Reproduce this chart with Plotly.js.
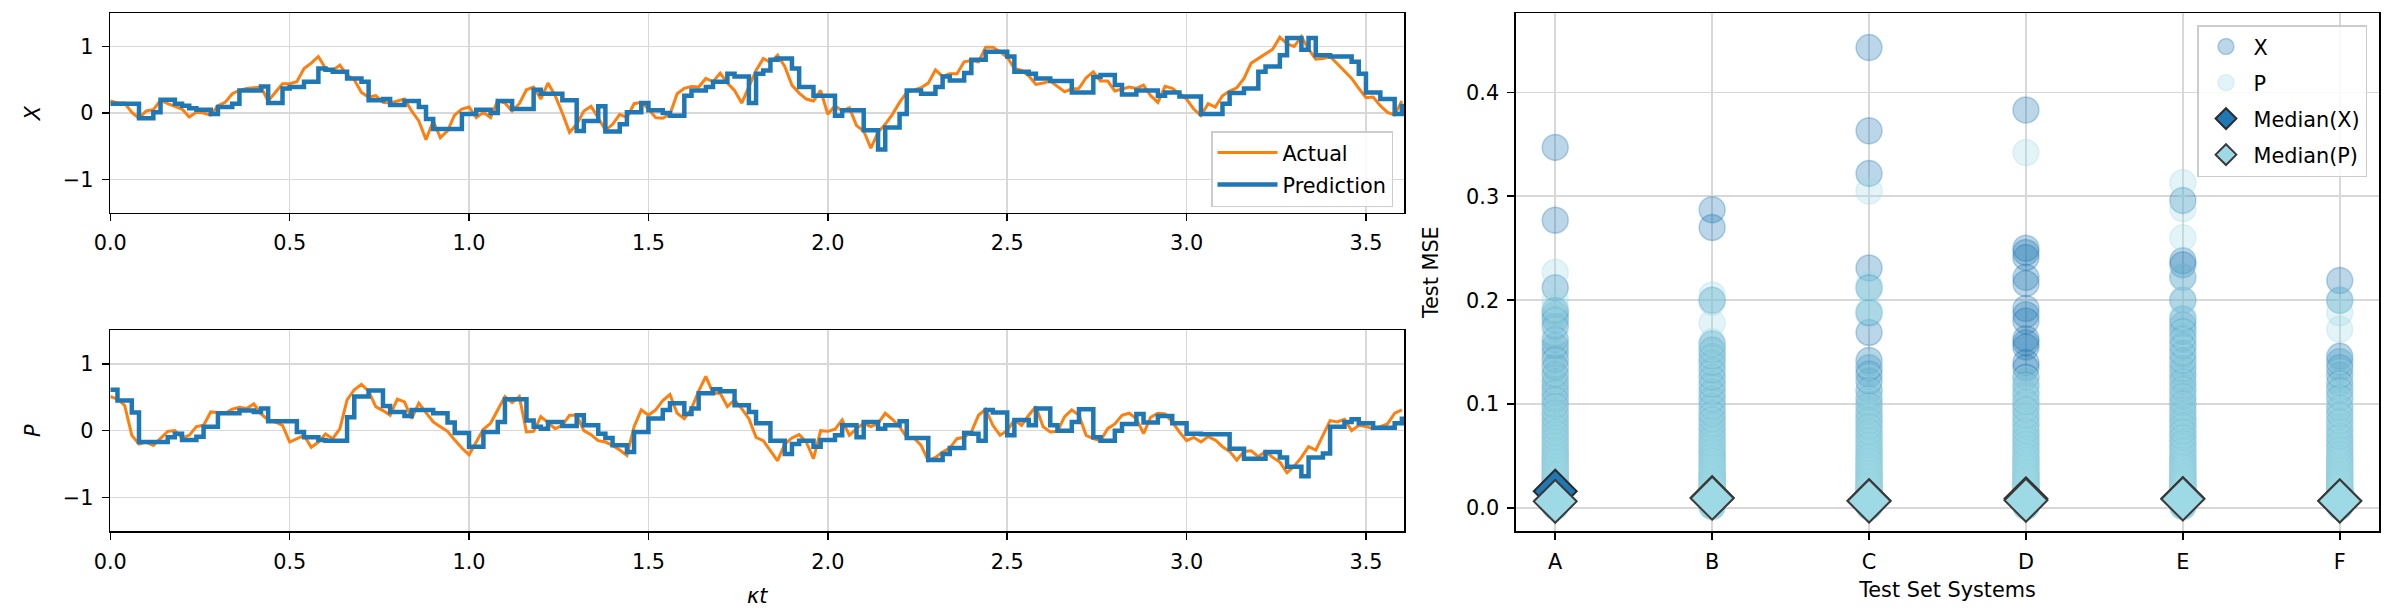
<!DOCTYPE html>
<html>
<head>
<meta charset="utf-8">
<script src="https://cdn.plot.ly/plotly-3.0.1.min.js"></script>
<style>html,body{margin:0;padding:0;background:#fff;}#chart{width:2402px;height:612px;}</style>
</head>
<body>
<div id="chart"></div>
<script>
// ---- time-series data (sampled every 0.02 in kappa*t) ----
const dt = 0.02;
const nSamples = 181;

const xActual = [
 0.18,0.15,0.15,0.01,-0.08,0.03,0.05,0.19,0.14,0.10,
 0.06,-0.06,0.01,0.00,-0.03,0.11,0.16,0.29,0.34,0.37,
 0.38,0.39,0.18,0.31,0.44,0.44,0.47,0.67,0.75,0.85,
 0.67,0.64,0.72,0.57,0.50,0.31,0.24,0.26,0.16,0.15,
 0.18,0.21,0.03,-0.12,-0.40,-0.12,-0.37,-0.27,-0.03,0.06,
 0.09,-0.07,0.01,-0.07,0.19,0.15,0.03,0.14,0.35,0.39,
 0.21,0.45,0.26,0.00,-0.29,-0.17,0.03,0.10,-0.07,-0.26,
 -0.17,-0.02,-0.07,0.14,0.16,0.06,-0.07,-0.08,-0.02,0.29,
 0.37,0.40,0.39,0.52,0.47,0.60,0.45,0.34,0.15,0.39,
 0.64,0.82,0.76,0.87,0.70,0.42,0.30,0.21,0.18,0.34,
 -0.02,0.11,0.03,0.08,-0.19,-0.27,-0.53,-0.29,-0.17,-0.02,
 0.16,0.31,0.34,0.38,0.45,0.65,0.55,0.59,0.59,0.77,
 0.79,0.77,0.99,0.99,0.92,0.84,0.67,0.64,0.56,0.43,
 0.45,0.48,0.40,0.32,0.36,0.37,0.53,0.62,0.48,0.48,
 0.33,0.36,0.39,0.37,0.42,0.26,0.16,0.40,0.37,0.29,
 0.21,0.06,-0.04,0.14,0.09,0.26,0.33,0.38,0.52,0.75,
 0.82,0.89,0.96,1.14,1.04,1.00,1.15,0.96,0.81,0.82,
 0.85,0.74,0.63,0.52,0.37,0.23,0.24,0.11,0.01,-0.03,
 0.18
];
const xPred = [
 0.14,0.14,0.14,0.14,-0.08,-0.08,0.01,0.20,0.20,0.14,
 0.11,0.07,0.05,0.05,-0.015,0.09,0.09,0.14,0.34,0.34,
 0.34,0.40,0.15,0.15,0.37,0.39,0.39,0.47,0.47,0.67,
 0.65,0.62,0.62,0.52,0.52,0.47,0.19,0.19,0.21,0.12,
 0.12,0.18,0.18,0.09,-0.09,-0.24,-0.24,-0.24,-0.24,-0.015,
 -0.015,0.05,0.05,0.00,0.18,0.18,0.06,0.06,0.06,0.35,
 0.29,0.29,0.29,0.19,0.19,-0.27,-0.12,-0.12,0.10,-0.28,
 -0.28,-0.17,0.01,0.01,0.15,0.04,0.04,0.00,-0.04,-0.04,
 0.26,0.34,0.34,0.39,0.47,0.47,0.59,0.55,0.55,0.15,
 0.59,0.64,0.80,0.82,0.82,0.67,0.39,0.39,0.26,0.26,
 0.26,-0.04,0.04,0.04,0.04,-0.26,-0.26,-0.55,-0.22,-0.22,
 -0.015,0.34,0.34,0.29,0.29,0.39,0.55,0.49,0.49,0.60,
 0.80,0.80,0.92,0.92,0.92,0.85,0.62,0.62,0.59,0.52,
 0.52,0.48,0.48,0.48,0.31,0.31,0.31,0.54,0.57,0.57,
 0.42,0.28,0.28,0.34,0.34,0.34,0.26,0.31,0.31,0.25,
 0.25,0.25,-0.015,-0.015,-0.015,0.14,0.30,0.30,0.37,0.37,
 0.62,0.70,0.70,0.87,1.13,1.13,0.95,1.13,0.87,0.87,
 0.85,0.85,0.85,0.77,0.59,0.31,0.31,0.21,0.21,-0.015,
 0.14
];
const pActual = [
 0.51,0.47,0.38,-0.07,-0.20,-0.17,-0.22,-0.12,-0.01,0.00,
 -0.11,-0.07,0.06,0.08,0.28,0.27,0.26,0.32,0.35,0.33,
 0.40,0.25,0.16,0.13,0.08,-0.17,-0.12,-0.07,-0.25,-0.17,
 -0.05,-0.12,0.03,0.46,0.61,0.69,0.59,0.36,0.30,0.23,
 0.47,0.43,0.18,0.41,0.27,0.13,0.06,-0.01,-0.14,-0.26,
 -0.36,-0.17,0.02,0.11,0.31,0.51,0.42,0.51,-0.02,-0.01,
 0.21,0.12,0.03,0.08,0.23,0.23,0.00,-0.06,-0.15,-0.17,
 -0.22,-0.29,-0.37,0.06,0.31,0.23,0.31,0.45,0.54,0.26,
 0.18,0.33,0.59,0.81,0.56,0.56,0.36,0.46,0.33,0.18,
 -0.10,-0.15,-0.30,-0.45,-0.20,-0.11,-0.06,-0.17,-0.42,0.00,
 -0.01,0.02,0.16,-0.07,0.03,0.11,0.06,0.11,0.26,0.17,
 0.06,-0.10,-0.11,-0.22,-0.45,-0.40,-0.32,-0.26,-0.12,-0.10,
 -0.02,0.23,0.32,0.08,-0.07,0.00,0.16,0.08,0.23,0.36,
 0.06,-0.02,-0.01,0.21,0.31,0.23,-0.07,-0.12,-0.15,0.03,
 0.10,0.23,0.26,0.18,-0.045,0.20,0.26,0.25,0.13,-0.02,
 -0.15,-0.10,-0.17,-0.09,-0.14,-0.24,-0.31,-0.44,-0.31,-0.30,
 -0.39,-0.31,-0.40,-0.47,-0.63,-0.53,-0.40,-0.24,-0.29,-0.07,
 0.15,0.13,0.17,0.00,0.08,0.06,0.03,0.06,0.10,0.26,
 0.31
];
const pPred = [
 0.61,0.45,0.45,0.27,-0.17,-0.17,-0.17,-0.17,-0.10,-0.045,
 -0.14,-0.14,-0.09,0.06,0.06,0.26,0.26,0.26,0.30,0.30,
 0.28,0.33,0.14,0.14,0.14,0.14,-0.02,-0.10,-0.10,-0.14,
 -0.15,-0.15,-0.15,0.20,0.51,0.51,0.60,0.60,0.37,0.28,
 0.28,0.22,0.31,0.31,0.31,0.26,0.26,0.12,-0.035,-0.035,
 -0.24,-0.24,-0.02,-0.02,0.13,0.47,0.47,0.47,0.15,0.06,
 0.03,0.13,0.13,0.07,0.07,0.23,0.08,0.08,-0.045,-0.11,
 -0.22,-0.22,-0.32,-0.02,-0.02,0.18,0.18,0.31,0.41,0.41,
 0.25,0.33,0.56,0.56,0.62,0.59,0.59,0.38,0.38,0.28,
 0.11,0.11,-0.15,-0.15,-0.35,-0.20,-0.15,-0.15,-0.24,-0.14,
 -0.14,-0.07,0.08,0.08,-0.10,0.13,0.13,0.03,0.08,0.08,
 0.14,-0.11,-0.11,-0.11,-0.44,-0.44,-0.35,-0.26,-0.26,-0.035,
 -0.045,-0.15,0.31,0.27,0.27,-0.07,0.16,0.16,0.08,0.33,
 0.33,0.08,0.00,0.00,0.13,0.32,0.32,-0.10,-0.15,-0.15,
 0.00,0.10,0.10,0.25,0.12,0.12,0.22,0.22,0.11,0.11,
 -0.045,-0.045,-0.055,-0.055,-0.055,-0.055,-0.27,-0.27,-0.42,-0.42,
 -0.42,-0.32,-0.32,-0.40,-0.54,-0.54,-0.68,-0.40,-0.40,-0.34,
 0.06,0.06,0.13,0.17,0.11,0.11,0.045,0.045,0.045,0.11,
 0.21
];

// ---- test MSE data per system ----
const systems = ['A','B','C','D','E','F'];
const mseX_A = [0.347,0.277,0.212,0.190,0.186,0.181,0.175,0.162,0.156,0.150,0.143,0.136,0.129,0.122,0.116,0.110,0.104,0.098,0.091,0.085,0.079,0.073,0.067,0.061,0.055,0.050,0.045,0.040,0.035,0.031,0.027,0.023,0.020,0.017,0.014,0.012,0.010,0.008,0.006,0.004,0.002];
const mseP_A = [0.227,0.200,0.193,0.186,0.178,0.170,0.160,0.150,0.140,0.131,0.123,0.116,0.109,0.102,0.096,0.090,0.085,0.080,0.075,0.070,0.066,0.062,0.058,0.054,0.050,0.046,0.043,0.040,0.037,0.034,0.031,0.028,0.025,0.022,0.020,0.018,0.016,0.014,0.012,0.010,0.008,0.007,0.006,0.005,0.004,0.003,0.002,0.001];
const mseX_B = [0.287,0.270,0.200,0.158,0.152,0.146,0.140,0.133,0.126,0.119,0.112,0.105,0.098,0.091,0.085,0.079,0.073,0.067,0.061,0.055,0.050,0.045,0.040,0.035,0.031,0.027,0.023,0.020,0.017,0.014,0.012,0.010,0.008,0.006,0.004,0.002];
const mseP_B = [0.205,0.198,0.178,0.160,0.154,0.148,0.142,0.135,0.128,0.121,0.114,0.107,0.100,0.094,0.088,0.083,0.078,0.073,0.068,0.064,0.060,0.056,0.052,0.048,0.044,0.041,0.038,0.035,0.032,0.029,0.026,0.023,0.021,0.019,0.017,0.015,0.013,0.011,0.009,0.008,0.007,0.006,0.005,0.004,0.003,0.002,0.001];
const mseX_C = [0.443,0.363,0.322,0.231,0.212,0.188,0.169,0.142,0.135,0.129,0.122,0.113,0.105,0.098,0.091,0.085,0.079,0.073,0.067,0.061,0.055,0.050,0.045,0.040,0.035,0.031,0.027,0.023,0.020,0.017,0.014,0.012,0.010,0.008,0.006,0.004,0.002];
const mseP_C = [0.305,0.215,0.210,0.190,0.186,0.138,0.125,0.112,0.104,0.097,0.091,0.086,0.081,0.076,0.071,0.067,0.063,0.059,0.055,0.051,0.047,0.044,0.041,0.038,0.035,0.032,0.029,0.026,0.023,0.021,0.019,0.017,0.015,0.013,0.011,0.009,0.008,0.007,0.006,0.005,0.004,0.003,0.002,0.001];
const mseX_D = [0.383,0.250,0.246,0.241,0.222,0.216,0.192,0.186,0.180,0.163,0.159,0.155,0.140,0.135,0.126,0.118,0.110,0.102,0.095,0.088,0.081,0.074,0.068,0.062,0.056,0.050,0.045,0.040,0.035,0.031,0.027,0.023,0.020,0.017,0.014,0.012,0.010,0.008,0.006,0.004,0.002];
const mseP_D = [0.342,0.124,0.117,0.110,0.104,0.098,0.092,0.087,0.082,0.077,0.072,0.068,0.064,0.060,0.056,0.052,0.048,0.045,0.042,0.039,0.036,0.033,0.030,0.027,0.024,0.022,0.020,0.018,0.016,0.014,0.012,0.010,0.009,0.008,0.007,0.006,0.005,0.004,0.003,0.002,0.001];
const mseX_E = [0.296,0.238,0.234,0.222,0.200,0.182,0.176,0.170,0.163,0.156,0.149,0.142,0.135,0.128,0.121,0.114,0.107,0.100,0.093,0.086,0.080,0.074,0.068,0.062,0.056,0.050,0.045,0.040,0.035,0.031,0.027,0.023,0.020,0.017,0.014,0.012,0.010,0.008,0.006,0.004,0.002];
const mseP_E = [0.313,0.288,0.260,0.222,0.200,0.185,0.175,0.168,0.160,0.152,0.144,0.136,0.128,0.120,0.113,0.106,0.099,0.093,0.087,0.081,0.076,0.071,0.066,0.061,0.057,0.053,0.049,0.045,0.041,0.038,0.035,0.032,0.029,0.026,0.023,0.021,0.019,0.017,0.015,0.013,0.011,0.009,0.008,0.007,0.006,0.005,0.004,0.003,0.002,0.001];
const mseX_F = [0.219,0.200,0.146,0.141,0.135,0.128,0.120,0.113,0.106,0.097,0.090,0.083,0.076,0.069,0.063,0.057,0.051,0.046,0.041,0.036,0.032,0.028,0.024,0.020,0.017,0.014,0.012,0.010,0.008,0.006,0.004,0.002];
const mseP_F = [0.200,0.188,0.172,0.142,0.130,0.118,0.111,0.104,0.098,0.092,0.086,0.081,0.076,0.071,0.066,0.062,0.058,0.054,0.050,0.046,0.043,0.040,0.037,0.034,0.031,0.028,0.025,0.022,0.020,0.018,0.016,0.014,0.012,0.010,0.009,0.008,0.007,0.006,0.005,0.004,0.003,0.002,0.001];
const medianX = [0.0163,0.0100,0.0072,0.0090,0.0092,0.0070];
const medianP = [0.0065,0.0095,0.0068,0.0075,0.0088,0.0068];

// ---- build traces ----
const t = Array.from({length: nSamples}, (_, i) => +(i * dt).toFixed(2));
const ORANGE = '#ff7f0e', BLUE = '#1f77b4', CYAN = '#9edae5';

function flatten(cats, lists) {
  const xs = [], ys = [];
  cats.forEach((c, i) => lists[i].forEach(v => { xs.push(c); ys.push(v); }));
  return {xs, ys};
}
const sx = flatten(systems, [mseX_A, mseX_B, mseX_C, mseX_D, mseX_E, mseX_F]);
const sp = flatten(systems, [mseP_A, mseP_B, mseP_C, mseP_D, mseP_E, mseP_F]);

const traces = [
  {x: t, y: xActual, xaxis: 'x', yaxis: 'y', type: 'scatter', mode: 'lines', name: 'Actual',
   line: {color: ORANGE, width: 3}, legend: 'legend', legendgroup: 'a'},
  {x: t, y: xPred, xaxis: 'x', yaxis: 'y', type: 'scatter', mode: 'lines', name: 'Prediction',
   line: {color: BLUE, width: 4.5, shape: 'hv'}, legend: 'legend', legendgroup: 'b'},
  {x: t, y: pActual, xaxis: 'x2', yaxis: 'y2', type: 'scatter', mode: 'lines', name: 'Actual',
   line: {color: ORANGE, width: 3}, showlegend: false},
  {x: t, y: pPred, xaxis: 'x2', yaxis: 'y2', type: 'scatter', mode: 'lines', name: 'Prediction',
   line: {color: BLUE, width: 4.5, shape: 'hv'}, showlegend: false},
  {x: sx.xs, y: sx.ys, xaxis: 'x3', yaxis: 'y3', type: 'scatter', mode: 'markers', name: 'X',
   marker: {symbol: 'circle', size: 26, color: 'rgba(31,119,180,0.30)', line: {color: 'rgba(31,119,180,0.30)', width: 1.5}},
   legend: 'legend2', legendgroup: 'g1'},
  {x: sp.xs, y: sp.ys, xaxis: 'x3', yaxis: 'y3', type: 'scatter', mode: 'markers', name: 'P',
   marker: {symbol: 'circle', size: 26, color: 'rgba(158,218,229,0.30)', line: {color: 'rgba(158,218,229,0.30)', width: 1.5}},
   legend: 'legend2', legendgroup: 'g2'},
  {x: systems, y: medianX, xaxis: 'x3', yaxis: 'y3', type: 'scatter', mode: 'markers', name: 'Median(X)',
   marker: {symbol: 'diamond', size: 33, color: BLUE, line: {color: '#2b2b2b', width: 2}}, legend: 'legend2', legendgroup: 'g3'},
  {x: systems, y: medianP, xaxis: 'x3', yaxis: 'y3', type: 'scatter', mode: 'markers', name: 'Median(P)',
   marker: {symbol: 'diamond', size: 33, color: CYAN, line: {color: '#3a3a3a', width: 2}}, legend: 'legend2', legendgroup: 'g4'}
];

const FONT = 'DejaVu Sans, Liberation Sans, sans-serif';
const W = 2402, H = 612;
const px = v => v / W;
const py = v => 1 - v / H;

function axisBase(extra) {
  return Object.assign({
    showline: true, linecolor: '#000', linewidth: 1.7, mirror: true,
    ticks: 'outside', ticklen: 7, tickwidth: 1.6, tickcolor: '#000',
    showgrid: true, gridcolor: '#d8d8d8', gridwidth: 1.6, zeroline: false,
    tickfont: {family: FONT, size: 20.8, color: '#000'},
    ticklabelstandoff: 4, fixedrange: true
  }, extra);
}

const layout = {
  width: W, height: H,
  margin: {l: 0, r: 0, t: 0, b: 0},
  paper_bgcolor: '#fff', plot_bgcolor: '#fff',
  font: {family: FONT, size: 20.8, color: '#000'},
  xaxis: axisBase({domain: [px(110.3), px(1404)], anchor: 'y', range: [0, 3.606], dtick: 0.5, tick0: 0, tickformat: '.1f'}),
  yaxis: axisBase({domain: [py(212.7), py(13.3)], anchor: 'x', range: [-1.5, 1.5], tickvals: [-1, 0, 1],
    title: {text: '<i>X</i>', font: {family: FONT, size: 20.8}, standoff: 16}}),
  xaxis2: axisBase({domain: [px(110.3), px(1404)], anchor: 'y2', range: [0, 3.606], dtick: 0.5, tick0: 0, tickformat: '.1f',
    title: {text: '<i>κt</i>', font: {family: FONT, size: 20.8}, standoff: 16}}),
  yaxis2: axisBase({domain: [py(531), py(330.3)], anchor: 'x2', range: [-1.5, 1.5], tickvals: [-1, 0, 1],
    title: {text: '<i>P</i>', font: {family: FONT, size: 20.8}, standoff: 16}}),
  xaxis3: axisBase({domain: [px(1516), px(2379)], anchor: 'y3', type: 'category', categoryorder: 'array', categoryarray: systems,
    range: [-0.25, 5.25], title: {text: 'Test Set Systems', font: {family: FONT, size: 20.8}, standoff: 10}}),
  yaxis3: axisBase({domain: [py(531), py(13.3)], anchor: 'x3', range: [-0.022, 0.476], dtick: 0.1, tick0: 0, tickformat: '.1f',
    title: {text: 'Test MSE', font: {family: FONT, size: 20.8}, standoff: 22}}),
  legend: {x: px(1393), y: py(131), xanchor: 'right', yanchor: 'top',
    bgcolor: 'rgba(255,255,255,0.85)', bordercolor: '#cccccc', borderwidth: 1.5,
    font: {family: FONT, size: 20.8, color: '#000'}, tracegroupgap: 2, itemwidth: 60},
  legend2: {x: px(2367), y: py(25), xanchor: 'right', yanchor: 'top',
    bgcolor: 'rgba(255,255,255,0.85)', bordercolor: '#cccccc', borderwidth: 1.5,
    font: {family: FONT, size: 20.8, color: '#000'}, itemsizing: 'trace', tracegroupgap: 6, itemwidth: 45},
  showlegend: true
};

Plotly.newPlot('chart', traces, layout, {staticPlot: true, displayModeBar: false});
</script>
</body>
</html>
